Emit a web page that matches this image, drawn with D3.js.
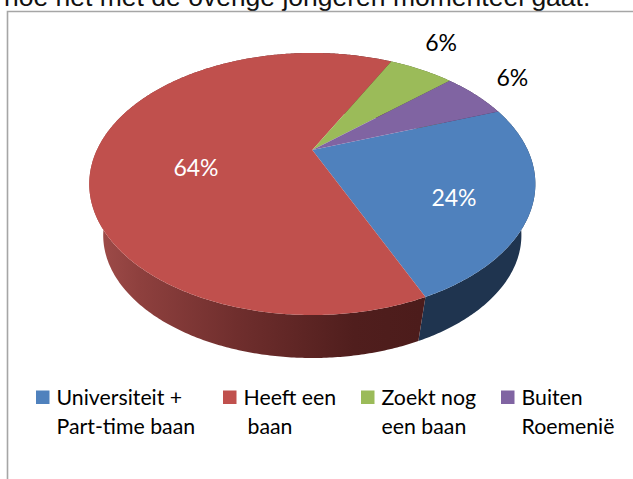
<!DOCTYPE html>
<html><head><meta charset="utf-8">
<script src="https://cdn.jsdelivr.net/npm/d3@7"></script>
<style>html,body{margin:0;padding:0;background:#fff;overflow:hidden}svg{display:block}</style>
</head><body>
<div id="chart"></div>
<script>
const categories = ["Universiteit +|Part-time baan", "Heeft een|baan", "Zoekt nog|een baan", "Buiten|Roemenië"];
const values = [24, 64, 6, 6];
const labels = ["24%", "64%", "6%", "6%"];
const colors = ["#4F81BD", "#C0504D", "#9BBB59", "#8064A2"];
const title = "hoe het met de overige jongeren momenteel gaat.";

const W = 633, H = 479;
const svg = d3.select("#chart").append("svg").attr("width", W).attr("height", H);
const bodyFont = "Lato, 'Open Sans', sans-serif";

// header text and frame
svg.append("text").attr("x", 4).attr("y", 5.5).attr("text-anchor", "start")
  .attr("font-family", "'Liberation Sans', Arial, sans-serif").attr("font-size", 26.5).attr("fill", "#111").text(title);
svg.append("path").attr("d", `M7.5,${H}V11.5H${W}`).attr("fill", "none").attr("stroke", "#a6a6a6").attr("stroke-width", 1.6);

// pie layout, clockwise from the top
const start = 70 * Math.PI / 180;
const arcs = d3.pie().sort(null).startAngle(start).endAngle(start + 2 * Math.PI)(values);

// perspective projection of the disc
const cx = 312.3, cy = 150, A = 215.4, B = 122.2, k = 0.2595, drop = 53.3, shrink = 0.9375;
const topP = (a, r = 1) => {
  const u = r * Math.sin(a), v = -r * Math.cos(a), w = 1 - k * v;
  return [cx + A * u / w, cy + B * v / w];
};
const botP = a => {
  const u = Math.sin(a), v = -Math.cos(a), w = 1 - k * v;
  return [cx + shrink * A * u / w, cy + drop + shrink * B * v / w];
};
const line = d3.line();
const sample = (a0, a1, step = 0.01) => {
  const n = Math.max(2, Math.ceil((a1 - a0) / step));
  return d3.range(n + 1).map(i => a0 + (a1 - a0) * i / n);
};

// wall gradients
const defs = svg.append("defs");
const redGrad = defs.append("linearGradient").attr("id", "wallRed").attr("gradientUnits", "userSpaceOnUse")
  .attr("x1", 90).attr("x2", 420).attr("y1", 0).attr("y2", 0);
[[0, "#A24E4B"], [0.15, "#8E403E"], [0.45, "#6F2E2D"], [0.8, "#501E1D"], [1, "#4C1C1B"]]
  .forEach(s => redGrad.append("stop").attr("offset", s[0]).attr("stop-color", s[1]));
const wallFill = ["#1F344F", "url(#wallRed)", "#4d5f2a", "#403251"];

// side walls
arcs.forEach((d, i) => {
  const ts = sample(d.startAngle, d.endAngle);
  const pts = ts.map(a => topP(a)).concat(ts.slice().reverse().map(a => botP(a)));
  svg.append("path").attr("d", line(pts) + "Z").attr("fill", wallFill[i]);
});

// top face
arcs.forEach((d, i) => {
  const pts = [[cx, cy]].concat(sample(d.startAngle, d.endAngle).map(a => topP(a)));
  svg.append("path").attr("d", line(pts) + "Z").attr("fill", colors[i]);
});

// data labels: mid-angle and radial fraction on the disc, with a small nudge
const labelRadius = [0.68, 0.58, 1.24, 1.24];
const labelNudge = [[-3, 13], [8, 20], [-1, -11], [3, -5]];
const labelColor = ["#fff", "#fff", "#000", "#000"];
arcs.forEach((d, i) => {
  const p = topP((d.startAngle + d.endAngle) / 2, labelRadius[i]);
  svg.append("text").attr("x", p[0] + labelNudge[i][0]).attr("y", p[1] + labelNudge[i][1]).attr("dy", "0.35em").attr("text-anchor", "middle")
    .attr("font-family", bodyFont).attr("font-size", 23).attr("fill", labelColor[i]).text(labels[i]);
});

// legend
const legendX = d3.scaleOrdinal().domain(categories).range([36, 223, 361, 501]);
const secondIndent = [0, 4, 0, 0];
categories.forEach((c, i) => {
  const x = legendX(c);
  svg.append("rect").attr("x", x).attr("y", 390.5).attr("width", 13.5).attr("height", 13.5).attr("fill", colors[i]);
  c.split("|").forEach((t, j) => {
    svg.append("text").attr("x", x + 20.5 + (j ? secondIndent[i] : 0)).attr("y", 404.5 + j * 29.5)
      .attr("font-family", bodyFont).attr("font-size", 21.3).attr("fill", "#000").text(t);
  });
});
</script>
</body></html>
